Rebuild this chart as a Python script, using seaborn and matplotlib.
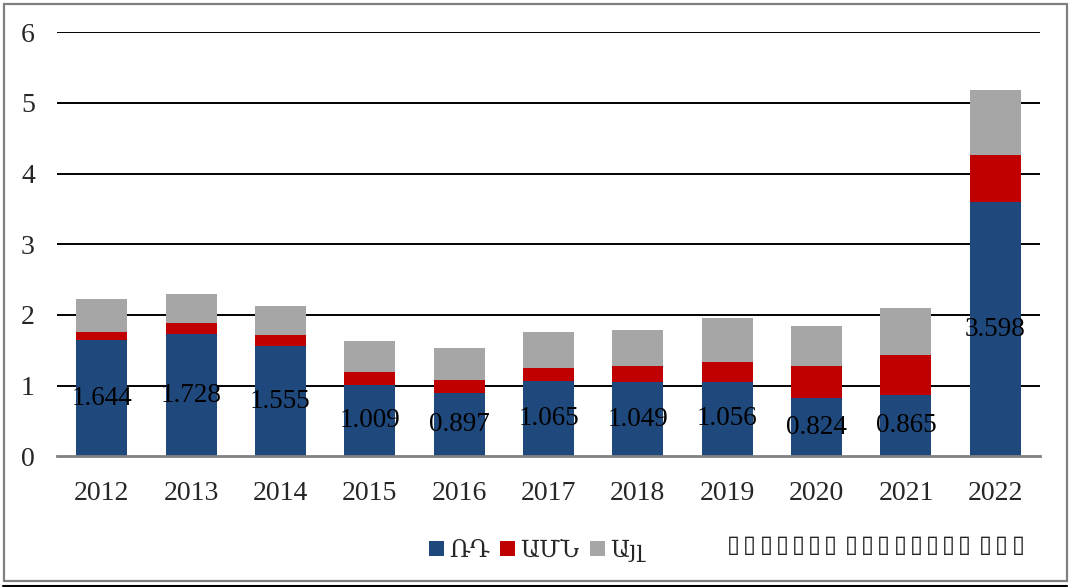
import matplotlib
matplotlib.use("Agg")
import matplotlib.pyplot as plt
import seaborn as sns
import pandas as pd
import numpy as np
from matplotlib.patches import Rectangle, Patch
from matplotlib.lines import Line2D

years = ["2012", "2013", "2014", "2015", "2016", "2017", "2018", "2019", "2020", "2021", "2022"]
rd = [1.644, 1.728, 1.555, 1.009, 0.897, 1.065, 1.049, 1.056, 0.824, 0.865, 3.598]
usa = [0.12, 0.155, 0.158, 0.177, 0.176, 0.182, 0.226, 0.275, 0.46, 0.575, 0.67]
other = [0.467, 0.42, 0.41, 0.448, 0.462, 0.514, 0.509, 0.627, 0.555, 0.664, 0.92]
series_names = ["ՌԴ", "ԱՄՆ", "Այլ"]
colors = ["#1F497D", "#C00000", "#A6A6A6"]
yticks = [0, 1, 2, 3, 4, 5, 6]
note_text = "▯▯▯▯▯▯▯ ▯▯▯▯▯▯▯▯ ▯▯▯"

sns.set_theme(style="white")
plt.rcParams["font.family"] = ["Liberation Serif", "DejaVu Serif"]

df = pd.DataFrame({"year": years, "rd": rd, "usa": usa, "other": other})
df["b2"] = df["rd"]
df["b3"] = df["rd"] + df["usa"]

fig = plt.figure(figsize=(10.70, 5.87), dpi=100)
ax = fig.add_axes([57 / 1070, (587 - 456.3) / 587, (1040 - 57) / 1070, (456.3 - 32.3) / 587])

sns.barplot(data=df, x="year", y="rd", color=colors[0], width=0.57, ax=ax,
            edgecolor="none", linewidth=0, saturation=1, zorder=3)
sns.barplot(data=df, x="year", y="usa", bottom=df["b2"], color=colors[1], width=0.57, ax=ax,
            edgecolor="none", linewidth=0, saturation=1, zorder=3)
sns.barplot(data=df, x="year", y="other", bottom=df["b3"], color=colors[2], width=0.57, ax=ax,
            edgecolor="none", linewidth=0, saturation=1, zorder=3)

ax.set_ylim(0, 6)
ax.set_xlim(-0.5, len(years) - 0.5)
ax.set_yticks(yticks)
ax.set_yticklabels([str(t) for t in yticks], fontsize=20)
ax.tick_params(axis="x", labelsize=20, length=0, pad=18)
ax.tick_params(axis="y", length=0, pad=16)
ax.set_xlabel("")
ax.set_ylabel("")
for s in ["left", "right", "top"]:
    ax.spines[s].set_visible(False)
ax.spines["bottom"].set_color("#808080")
ax.spines["bottom"].set_linewidth(2)
ax.spines["bottom"].set_zorder(4)
for t in yticks[1:]:
    ax.axhline(t, color="black", linewidth=1.4, zorder=1)

for i, v in enumerate(rd):
    ax.text(i, v / 2, f"{v:.3f}", ha="center", va="center", fontsize=19.5, color="black", zorder=5)

handles = [Patch(facecolor=c, edgecolor="none") for c in colors]
fig.legend(handles, series_names, loc="center left", bbox_to_anchor=(429 / 1070, 1 - 551 / 587),
           ncol=3, frameon=False, fontsize=17, handlelength=0.62, handleheight=0.62,
           handletextpad=0.22, columnspacing=0.45, borderaxespad=0, borderpad=0)

# note text made of missing-glyph boxes, one character at a time
x = 727.0
for ch in note_text:
    if ch == " ":
        x += 4.5
        continue
    fig.text(x / 1070, 1 - 545 / 587, ch, fontsize=17, va="center", ha="left",
             family=["DejaVu Sans"], color="#222222")
    x += 16.2

fig.add_artist(Rectangle((3.5 / 1070, 1 - 580.5 / 587), (1066.5 - 3.5) / 1070, (580.5 - 3.5) / 587,
                         transform=fig.transFigure, fill=False, edgecolor="#808080", linewidth=1.6))
fig.add_artist(Line2D([3 / 1070, 1067 / 1070], [1 - 586 / 587, 1 - 586 / 587],
                      transform=fig.transFigure, color="black", linewidth=1.5))

fig.savefig("out.png", dpi=100, facecolor="white")
